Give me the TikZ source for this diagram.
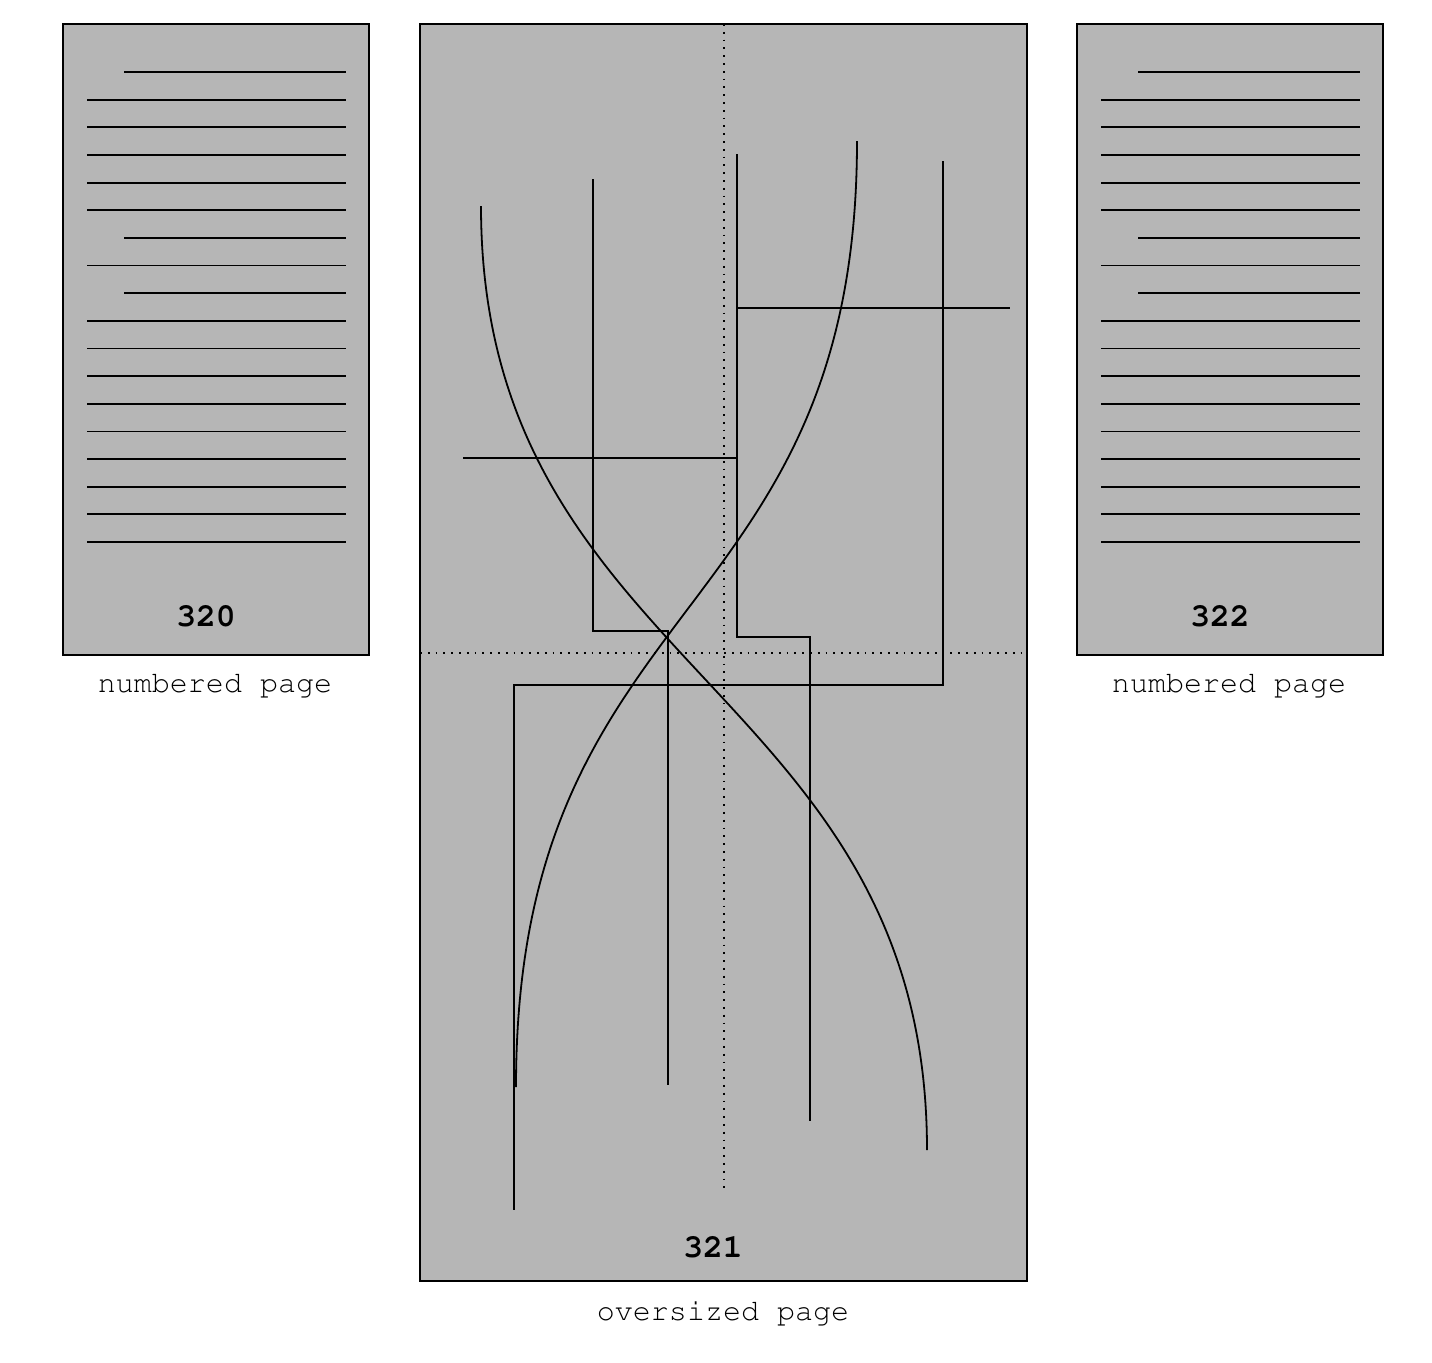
\documentclass[tikz,border=0pt]{standalone}
\usepackage[T1]{fontenc}
\usepackage{courier}
\definecolor{pagegray}{RGB}{182,182,182}

\begin{document}
\begin{tikzpicture}[x=0.3333pt,y=-0.3333pt,line width=0.6pt,
        page/.style={draw=black,fill=pagegray},
        pagenum/.style={font=\ttfamily\bfseries\fontsize{11}{13}\selectfont,anchor=base},
        caption/.style={font=\ttfamily\fontsize{10}{12}\selectfont,anchor=base}]
        \useasboundingbox (0,0) rectangle (1432,1362);
        % the two numbered pages
        \foreach \dx/\num in {0/320,1014/322} {
            \draw[page] (63+\dx,24) rectangle (369+\dx,655);
            \foreach \i/\xs in {0/124,1/87,2/87,3/87,4/87,5/87,6/124,7/87,8/124,9/87,10/87,11/87,12/87,13/87,14/87,15/87,16/87,17/87} {
                \draw (\xs+\dx,72+27.647*\i) -- (346+\dx,72+27.647*\i);
            }
            \node[pagenum] (num\num) at (206+\dx,626) {\num};
            \node[caption] (cap\num) at (215+\dx,692) {numbered page};
        }
        % the oversized page
        \draw[page] (420,24) rectangle (1027,1281);
        \draw[dotted] (724,24) -- (724,1188);
        \draw[dotted] (420,653) -- (1027,653);
        \draw (481,206) .. controls (481,671) and (927,685) .. (927,1150);
        \draw (857,141) .. controls (857,629) and (516,590) .. (516,1087);
        \draw (593,179) -- (593,631) -- (668,631) -- (668,1085);
        \draw (463,458) -- (737,458) -- (737,308) -- (1010,308);
        \draw (737,154) -- (737,637) -- (810,637) -- (810,1121);
        \draw (943,161) -- (943,685) -- (514,685) -- (514,1210);
        \node[pagenum] (num321) at (713,1257) {321};
        \node[caption] (cap321) at (723,1320) {oversized page};
    \end{tikzpicture}
\end{document}
